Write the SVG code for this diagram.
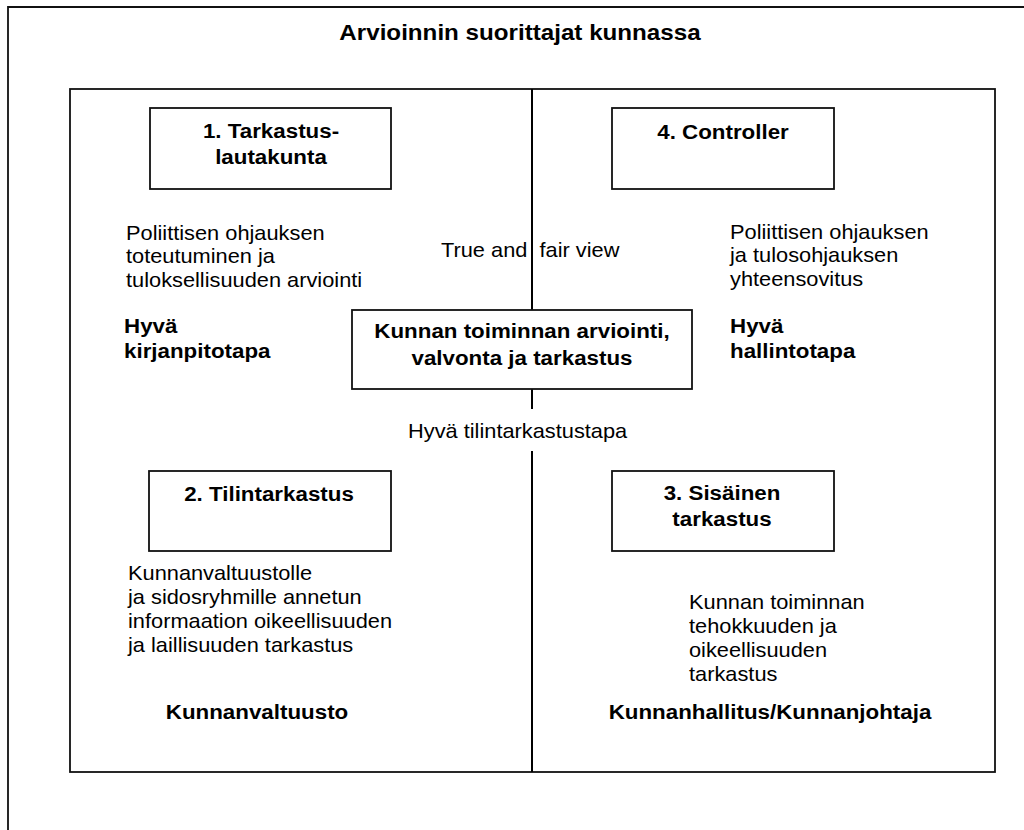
<svg xmlns="http://www.w3.org/2000/svg" width="1024" height="830" viewBox="0 0 1024 830">
  <style>
    .frame { fill: none; stroke: #111; stroke-width: 1.8; }
    .box { fill: #fff; stroke: #111; stroke-width: 1.8; }
    .divider { fill: none; stroke: #000; stroke-width: 2; }
    text { font-family: "Liberation Sans", Arial, sans-serif; fill: #000; }
    .title { font-size: 22.5px; font-weight: bold; }
    .lbl { font-size: 20.5px; font-weight: bold; }
    .txt { font-size: 20px; }
    .mid { text-anchor: middle; }
  </style>

  <rect width="1024" height="830" fill="#fff"/>

  <!-- page frame (open at right and bottom) -->
  <path class="frame" d="M8,830 V7 H1024"/>
  <text class="title mid" transform="translate(520 40) scale(1.075 1)">Arvioinnin suorittajat kunnassa</text>

  <!-- inner frame -->
  <rect class="frame" x="70" y="89" width="925" height="683"/>

  <!-- quadrant divider -->
  <g id="connectors">
    <path class="divider" d="M532,89 V310 M532,389 V409 M532,451 V772"/>
  </g>

  <g id="node-tarkastuslautakunta">
    <rect class="box" x="150" y="108" width="241" height="81"/>
    <text class="lbl mid" transform="translate(271 138) scale(1.09 1)"><tspan x="0">1. Tarkastus-</tspan><tspan x="0" dy="26">lautakunta</tspan></text>
  </g>

  <g id="node-controller">
    <rect class="box" x="612" y="108" width="222" height="81"/>
    <text class="lbl mid" transform="translate(723 139) scale(1.09 1)">4. Controller</text>
  </g>

  <g id="node-center">
    <rect class="box" x="352" y="310" width="340" height="79"/>
    <text class="lbl mid" transform="translate(522 338) scale(1.09 1)"><tspan x="0">Kunnan toiminnan arviointi,</tspan><tspan x="0" dy="27">valvonta ja tarkastus</tspan></text>
  </g>

  <g id="node-tilintarkastus">
    <rect class="box" x="149" y="471" width="242" height="80"/>
    <text class="lbl mid" transform="translate(269 501) scale(1.09 1)">2. Tilintarkastus</text>
  </g>

  <g id="node-sisainen">
    <rect class="box" x="612" y="471" width="222" height="80"/>
    <text class="lbl mid" transform="translate(722 500) scale(1.09 1)"><tspan x="0">3. Sisäinen</tspan><tspan x="0" dy="26">tarkastus</tspan></text>
  </g>

  <!-- descriptive texts -->
  <g id="texts">
    <text class="txt" transform="translate(126 240) scale(1.09 1)"><tspan x="0">Poliittisen ohjauksen</tspan><tspan x="0" dy="23.5">toteutuminen ja</tspan><tspan x="0" dy="23.5">tuloksellisuuden arviointi</tspan></text>
    <text class="txt" transform="translate(730 239) scale(1.09 1)"><tspan x="0">Poliittisen ohjauksen</tspan><tspan x="0" dy="23.5">ja tulosohjauksen</tspan><tspan x="0" dy="23.5">yhteensovitus</tspan></text>
    <text class="txt" transform="translate(441 257) scale(1.09 1)" xml:space="preserve">True and  fair view</text>
    <text class="lbl" transform="translate(124 333) scale(1.09 1)"><tspan x="0">Hyvä</tspan><tspan x="0" dy="25">kirjanpitotapa</tspan></text>
    <text class="lbl" transform="translate(730 333) scale(1.09 1)"><tspan x="0">Hyvä</tspan><tspan x="0" dy="25">hallintotapa</tspan></text>
    <text class="txt" transform="translate(408 438) scale(1.09 1)">Hyvä tilintarkastustapa</text>
    <text class="txt" transform="translate(128 580) scale(1.09 1)"><tspan x="0">Kunnanvaltuustolle</tspan><tspan x="0" dy="24">ja sidosryhmille annetun</tspan><tspan x="0" dy="24">informaation oikeellisuuden</tspan><tspan x="0" dy="24">ja laillisuuden tarkastus</tspan></text>
    <text class="txt" transform="translate(689 609) scale(1.09 1)"><tspan x="0">Kunnan toiminnan</tspan><tspan x="0" dy="24">tehokkuuden ja</tspan><tspan x="0" dy="24">oikeellisuuden</tspan><tspan x="0" dy="24">tarkastus</tspan></text>
    <text class="lbl mid" transform="translate(257 719) scale(1.09 1)">Kunnanvaltuusto</text>
    <text class="lbl mid" transform="translate(770 719) scale(1.09 1)">Kunnanhallitus/Kunnanjohtaja</text>
  </g>
</svg>
